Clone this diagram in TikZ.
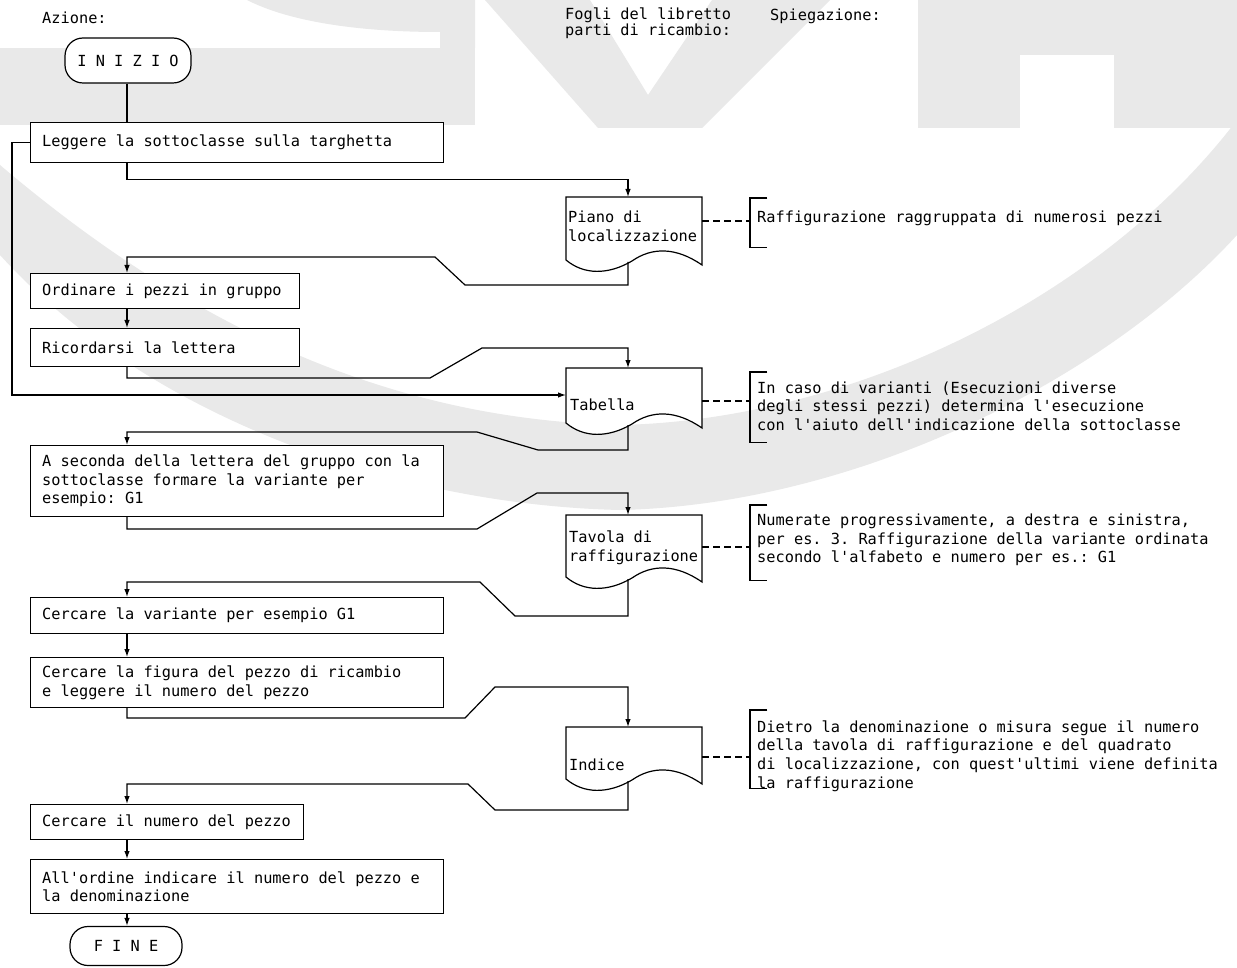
\documentclass[tikz,border=0pt]{standalone}
\usepackage{fontspec}
\setmonofont{DejaVu Sans Mono}
\usetikzlibrary{arrows.meta,calc}
\definecolor{wm}{RGB}{233,233,233}
\newcommand\docpath[6]{% name, x, top, H, loop y, dash y (relative)
  \begin{scope}[shift={(#2,#3)}]
    \filldraw[docshape] (0,#4) -- (0,0) -- (136,0) -- (136,#4+5)
      .. controls (110,#4-13) and (86,#4-13) .. (66,#4+1)
      .. controls (42,#4+15) and (18,#4+15) .. (0,#4) -- cycle;
    \coordinate (#1-top) at (62,0);
    \coordinate (#1-bot) at (62,#4+2);
    \coordinate (#1-l) at (0,#5);
    \coordinate (#1-r) at (136,#6);
  \end{scope}}
\newcommand\actbox[6]{% name, x, y, w, h, text
  \node[box, minimum width=#4pt, minimum height=#5pt] (#1) at (#2,#3) {};
  \node[lbl] (#1t) at ($(#1.west)+(12,0)$) {#6};}
\begin{document}
\begin{tikzpicture}[x=1pt,y=-1pt,
  every node/.style={font=\ttfamily\fontsize{15.3}{18.6}\selectfont, inner sep=0pt},
  ln/.style={line width=1.2pt},
  arr/.style={ln,-{Latex[length=8pt,width=5.5pt]}},
  box/.style={draw, ln, fill=white, anchor=north west, inner sep=0pt},
  term/.style={draw, ln, fill=white, rounded corners=18pt, inner sep=0pt},
  docshape/.style={ln, fill=white},
  lbl/.style={anchor=west, align=left},
  brk/.style={anchor=north west, minimum width=17pt, inner sep=0pt},
  dsh/.style={ln, dash pattern=on 7pt off 4pt}
]
\useasboundingbox (0,0) rectangle (1237,968);
\fill[white] (0,0) rectangle (1237,968);

% faint watermark
\begin{scope}[wm]
  \fill (0,48) rectangle (475,125);
  \fill (247,0) .. controls (290,22) and (360,32) .. (440,32) -- (440,48) -- (475,48) -- (475,0) -- cycle;
  \fill (485,0) -- (590,0) -- (648,95) -- (712,0) -- (830,0) -- (702,128) -- (598,128) -- cycle;
  \fill (918,0) rectangle (1020,128);
  \fill (1020,0) rectangle (1237,55);
  \fill (1114,55) rectangle (1237,128);
  \fill (0,165) .. controls (200,335) and (400,420) .. (620,425)
        .. controls (850,420) and (1100,300) .. (1237,120)
        -- (1237,235) .. controls (1100,385) and (850,505) .. (620,510)
        .. controls (400,505) and (150,420) .. (0,255) -- cycle;
\end{scope}

\coordinate (col) at (127,0);

% headers
\node[lbl] (hA) at (42,18) {Azione:};
\node[anchor=north west, align=left, font=\ttfamily\fontsize{15.3}{15.5}\selectfont] (hF) at (565,8) {Fogli del libretto\\parti di ricambio:};
\node[lbl] (hS) at (770,16) {Spiegazione:};

% terminals
\node[term, minimum width=126pt, minimum height=45pt] (start) at (128,60.5) {I N I Z I O};
\node[term, minimum width=112pt, minimum height=39pt] (end) at (126,946) {F I N E};

% action boxes
\actbox{b1}{30}{122}{413}{40}{Leggere la sottoclasse sulla targhetta}
\actbox{b2}{30}{273}{269}{35}{Ordinare i pezzi in gruppo}
\actbox{b3}{30}{328}{269}{38}{Ricordarsi la lettera}
\actbox{b4}{30}{445}{413}{71}{A seconda della lettera del gruppo con la\\sottoclasse formare la variante per\\esempio: G1}
\actbox{b5}{30}{597}{413}{36}{Cercare la variante per esempio G1}
\actbox{b6}{30}{657}{413}{50}{Cercare la figura del pezzo di ricambio\\e leggere il numero del pezzo}
\actbox{b7}{30}{804}{273}{35}{Cercare il numero del pezzo}
\actbox{b8}{30}{859}{413}{54}{All'ordine indicare il numero del pezzo e\\la denominazione}

% documents
\docpath{d1}{566}{197}{63}{27}{24}
\docpath{d2}{566}{368}{55}{27}{33}
\docpath{d3}{566}{515}{62}{30}{32}
\docpath{d4}{566}{727}{52}{30}{30}
\node[lbl] (t1) at (568,226.5) {Piano di\\localizzazione};
\node[lbl] (t2) at (570,405) {Tabella};
\node[lbl] (t3) at (569,548) {Tavola di\\raffigurazione};
\node[lbl] (t4) at (569,765) {Indice};

% brackets and explanations
\node[brk, minimum height=49pt] (br1) at (750,198) {};
\node[brk, minimum height=70pt] (br2) at (750,372) {};
\node[brk, minimum height=75pt] (br3) at (750,505) {};
\node[brk, minimum height=78pt] (br4) at (750,710) {};
\foreach \b in {br1,br2,br3,br4}
  \draw[ln] (\b.north east) -- (\b.north west) -- (\b.south west) -- (\b.south east);
\node[lbl] (e1) at (757,218) {Raffigurazione raggruppata di numerosi pezzi};
\node[lbl] (e2) at (757,406) {In caso di varianti (Esecuzioni diverse\\degli stessi pezzi) determina l'esecuzione\\con l'aiuto dell'indicazione della sottoclasse};
\node[lbl] (e3) at (757,540) {Numerate progressivamente, a destra e sinistra,\\per es. 3. Raffigurazione della variante ordinata\\secondo l'alfabeto e numero per es.: G1};
\node[lbl] (e4) at (757,756) {Dietro la denominazione o misura segue il numero\\della tavola di raffigurazione e del quadrato\\di localizzazione, con quest'ultimi viene definita\\la raffigurazione};
\draw[dsh] (d1-r) -- (d1-r -| br1.west);
\draw[dsh] (d2-r) -- (d2-r -| br2.west);
\draw[dsh] (d3-r) -- (d3-r -| br3.west);
\draw[dsh] (d4-r) -- (d4-r -| br4.west);

% connectors
\draw[ln] (start.south -| col) -- (b1.north -| col);
\draw[arr] (b1.west) -- ++(-18,0) |- (d2-l);
\draw[arr] (b1.south -| col) -- ++(0,16) -| (d1-top);
\draw[arr] (d1-bot) |- (465,285) -- (435,257) -| (b2.north -| col);
\draw[arr] (b2.south -| col) -- (b3.north -| col);
\draw[arr] (b3.south -| col) |- (430,378) -- (482,348) -| (d2-top);
\draw[arr] (d2-bot) |- (538,450) -- (477,432) -| (b4.north -| col);
\draw[arr] (b4.south -| col) |- (477,529) -- (537,493) -| (d3-top);
\draw[arr] (d3-bot) |- (515,616) -- (480,582) -| (b5.north -| col);
\draw[arr] (b5.south -| col) -- (b6.north -| col);
\draw[arr] (b6.south -| col) |- (465,718) -- (495,687) -| (d4-top);
\draw[arr] (d4-bot) |- (495,810) -- (468,784) -| (b7.north -| col);
\draw[arr] (b7.south -| col) -- (b8.north -| col);
\draw[arr] (b8.south -| col) -- (end.north -| col);
\end{tikzpicture}
\end{document}
